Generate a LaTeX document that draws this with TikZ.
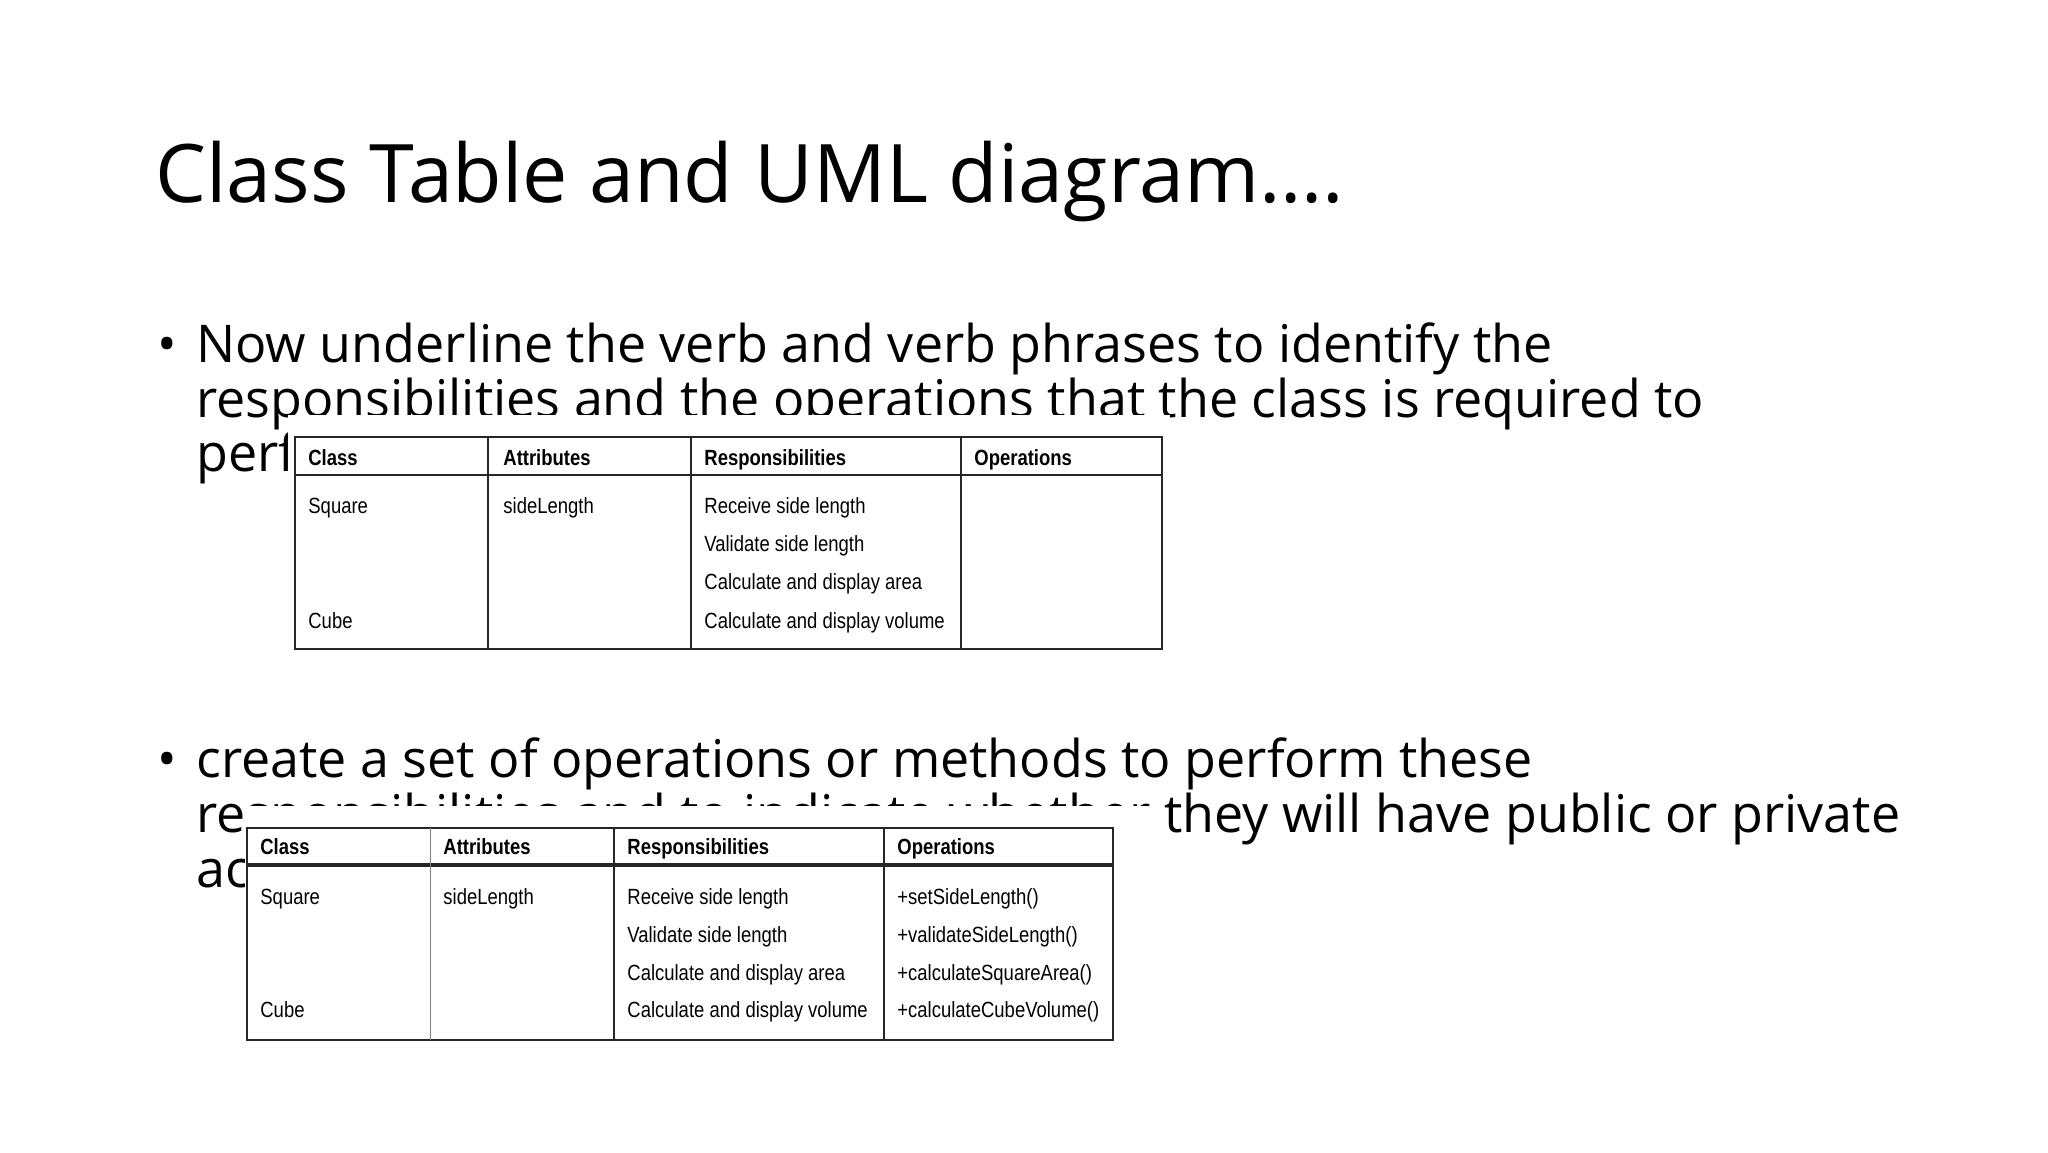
\documentclass[tikz,border=0pt]{standalone}
\usepackage{fontspec}
\setmainfont{Open Sans}
\newfontfamily\tabfont[FakeStretch=0.84]{Liberation Sans}
\begin{document}
\begin{tikzpicture}[x=0.5pt,y=-0.5pt,
  body/.style={anchor=base west,inner sep=0,font=\fontsize{26}{31}\selectfont},
  cell/.style={anchor=base west,inner sep=0,font=\tabfont\fontsize{11}{12}\selectfont},
  head/.style={cell,font=\tabfont\bfseries\fontsize{11}{12}\selectfont},
  rule/.style={line width=0.9pt,black!85}]
\useasboundingbox (0,0) rectangle (2048,1152);
\fill[white] (0,0) rectangle (2048,1152);
\node[anchor=base west,inner sep=0,font=\fontsize{40.4}{46}\selectfont] (title) at (155,202) {Class Table and UML diagram\dots.};
% bullet 1
\node[body] (b1) at (157,362) {•};
\node[body] (l11) at (196,362) {Now underline the verb and verb phrases to identify the};
\node[body] (l12) at (196,417) {responsibilities and the operations that the class is required to};
\node[body] (l13) at (196,471) {perform.};
% bullet 2
\node[body] (b2) at (157,777) {•};
\node[body] (l21) at (196,777) {create a set of operations or methods to perform these};
\node[body] (l22) at (196,832) {responsibilities and to indicate whether they will have public or private};
\node[body] (l23) at (196,887) {access.};
% table 1
\fill[white] (288,415) rectangle (1170,655);
\draw[rule] (295,437) rectangle (1162,649);
\draw[rule] (295,475) -- (1162,475);
\foreach \x in {488,691,961} \draw[rule] (\x,437) -- (\x,649);
\node[head] (t1h1) at (308,465) {Class};
\node[head] (t1h2) at (503,465) {Attributes};
\node[head] (t1h3) at (704,465) {Responsibilities};
\node[head] (t1h4) at (974,465) {Operations};
\node[cell] (t1a) at (308,513) {Square};
\node[cell] (t1b) at (308,628) {Cube};
\node[cell] (t1c) at (503,513) {sideLength};
\node[cell] (t1d) at (704,513) {Receive side length};
\node[cell] (t1e) at (704,551) {Validate side length};
\node[cell] (t1f) at (704,589) {Calculate and display area};
\node[cell] (t1g) at (704,628) {Calculate and display volume};
% table 2
\fill[white] (245,806) rectangle (1149,1045);
\draw[rule] (247,828) rectangle (1113,1040);
\draw[line width=1.6pt,black!85] (247,865) -- (1113,865);
\draw[line width=0.5pt,black!50] (430,828) -- (430,1040);
\foreach \x in {614,884} \draw[rule] (\x,828) -- (\x,1040);
\node[head] (t2h1) at (260,854) {Class};
\node[head] (t2h2) at (443,854) {Attributes};
\node[head] (t2h3) at (627,854) {Responsibilities};
\node[head] (t2h4) at (897,854) {Operations};
\node[cell] (t2a) at (260,904) {Square};
\node[cell] (t2b) at (260,1017) {Cube};
\node[cell] (t2c) at (443,904) {sideLength};
\node[cell] (t2d) at (627,904) {Receive side length};
\node[cell] (t2e) at (627,942) {Validate side length};
\node[cell] (t2f) at (627,980) {Calculate and display area};
\node[cell] (t2g) at (627,1017) {Calculate and display volume};
\node[cell] (t2o1) at (897,904) {+setSideLength()};
\node[cell] (t2o2) at (897,942) {+validateSideLength()};
\node[cell] (t2o3) at (897,980) {+calculateSquareArea()};
\node[cell] (t2o4) at (897,1017) {+calculateCubeVolume()};
\end{tikzpicture}
\end{document}
